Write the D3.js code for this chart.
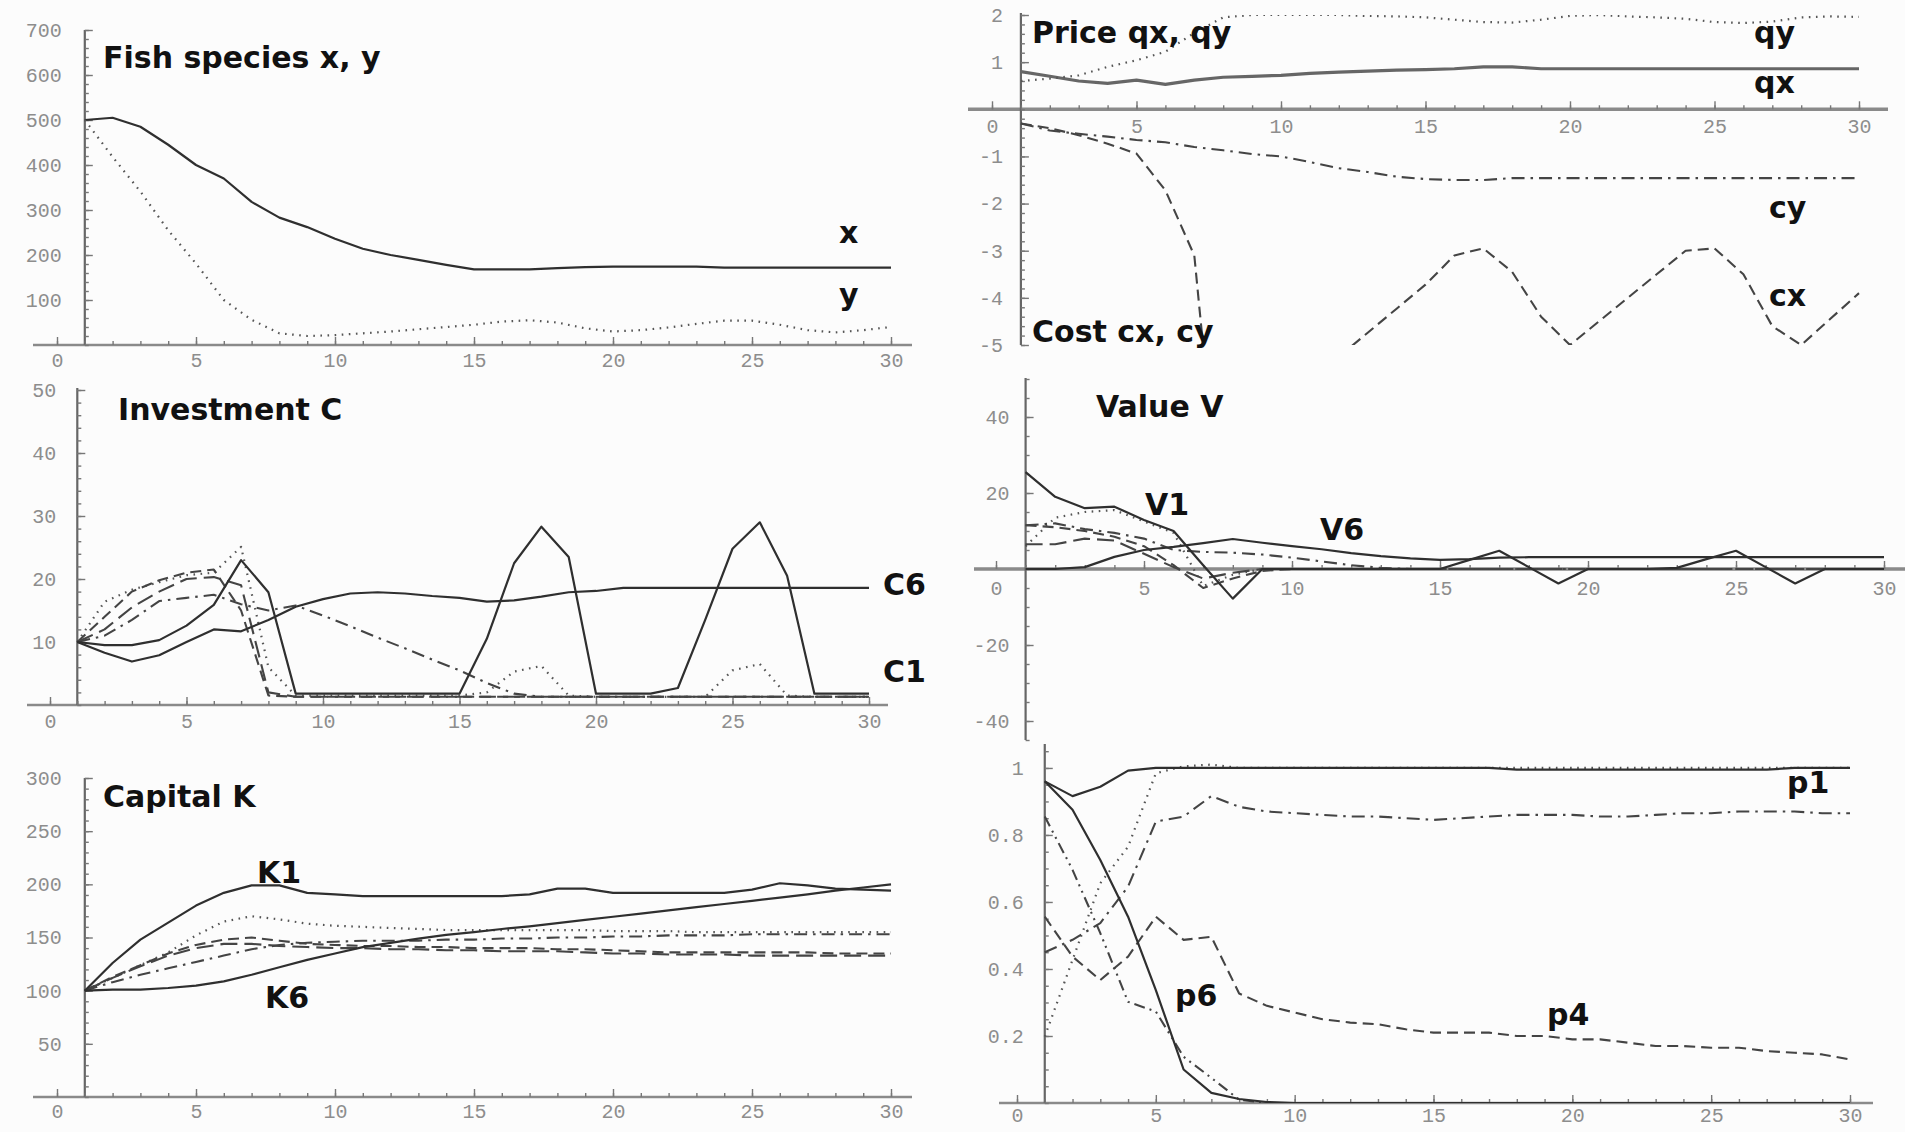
<!DOCTYPE html>
<html><head><meta charset="utf-8">
<script src="https://cdn.jsdelivr.net/npm/d3@7"></script>
<style>
html,body{margin:0;padding:0;background:#fcfcfc;}
svg{display:block;background:#fcfcfc;}
.lbl{font-family:"DejaVu Sans",sans-serif;font-weight:bold;font-size:30px;fill:#111;}
.tick text{font-family:"Liberation Mono",monospace;font-size:20px;fill:#8d8d8d;}
.tick line{stroke:#777;stroke-width:1.4;}
</style></head><body>
<svg id="chart" width="1905" height="1132"></svg>
<script>
// ---------------- DATA ----------------
const years = [1,2,3,4,5,6,7,8,9,10,11,12,13,14,15,16,17,18,19,20,21,22,23,24,25,26,27,28,29,30];
const xTickLabels = [0,5,10,15,20,25,30];

// Fish species
const fishX = [500,505,485,445,400,370,318,283,262,236,214,200,189,178,168,168,168,171,173,174,174,174,174,172,172,172,172,172,172,172];
const fishY = [500,418,341,255,181,100,56,26,20,22,26,30,35,40,45,52,55,50,37,30,33,39,47,54,54,45,33,28,33,40];
const fishTicks = [100,200,300,400,500,600,700];

// Price and cost
const priceQx = [0.8,0.7,0.6,0.55,0.62,0.53,0.62,0.68,0.7,0.72,0.76,0.79,0.81,0.83,0.84,0.86,0.9,0.9,0.86,0.86,0.86,0.86,0.86,0.86,0.86,0.86,0.86,0.86,0.86,0.86];
const priceQy = [0.6,0.65,0.72,0.9,1.04,1.22,1.62,1.95,2.0,2.0,2.0,2.0,1.98,1.97,1.95,1.9,1.85,1.84,1.9,1.98,2.0,1.97,1.95,1.92,1.85,1.83,1.86,1.95,1.97,1.96];
const costCx = [-0.3,-0.4,-0.55,-0.73,-0.94,-1.72,-3.1,-9.4,null,null,null,-5.25,-4.74,-4.23,-3.72,-3.1,-2.95,-3.45,-4.4,-5.0,-4.5,-4.0,-3.5,-3.0,-2.95,-3.5,-4.6,-5.0,-4.45,-3.9];
const costCy = [-0.3,-0.45,-0.52,-0.58,-0.65,-0.7,-0.8,-0.87,-0.95,-1.0,-1.12,-1.25,-1.33,-1.43,-1.48,-1.5,-1.5,-1.46,-1.46,-1.46,-1.46,-1.46,-1.46,-1.46,-1.46,-1.46,-1.46,-1.46,-1.46,-1.46];
const priceTicks = [-5,-4,-3,-2,-1,1,2];

// Investment C1..C6
const invC1 = [10,9.5,9.5,10.3,12.6,15.9,23,17.9,1.8,1.8,1.8,1.8,1.8,1.8,1.8,10.5,22.5,28.3,23.5,1.8,1.8,1.8,2.7,13.5,24.8,29,20.5,1.8,1.8,1.8];
const invC2 = [10,16.4,18.3,19.5,20.6,21,25.1,6,1.5,1.5,1.5,1.5,1.5,1.5,1.5,2,5.3,6.2,1.5,1.3,1.3,1.3,1.3,1.3,5.5,6.5,1.5,1.3,1.3,1.3];
const invC3 = [10,14,18,19.8,21,21.5,15,1.5,1.3,1.3,1.3,1.3,1.3,1.3,1.3,1.3,1.3,1.3,1.3,1.3,1.3,1.3,1.3,1.3,1.3,1.3,1.3,1.3,1.3,1.3];
const invC4 = [10,12,15.5,18,20,20.3,19,2,1.3,1.3,1.3,1.3,1.3,1.3,1.3,1.3,1.3,1.3,1.3,1.3,1.3,1.3,1.3,1.3,1.3,1.3,1.3,1.3,1.3,1.3];
const invC5 = [10,11,13.5,16.5,17,17.5,16,15,15.8,14.2,12.5,10.7,9,7.2,5.5,3.5,1.8,1.3,1.3,1.3,1.3,1.3,1.3,1.3,1.3,1.3,1.3,1.3,1.3,1.3];
const invC6 = [10,8.3,6.9,7.9,10,12,11.7,13.5,15.6,16.8,17.7,17.9,17.7,17.3,17,16.4,16.6,17.2,17.9,18.1,18.6,18.6,18.6,18.6,18.6,18.6,18.6,18.6,18.6,18.6];
const invTicks = [10,20,30,40,50];

// Value V1..V6
const valV1 = [25.5,19,16,16.4,12.9,10,1,-7.8,0,0,0,0,0,0,0,2.4,4.8,0.5,-3.8,0,0,0,0.3,2.6,4.8,0.5,-3.8,0,0,0];
const valV2 = [6,13.5,15,15.5,12.5,9.5,-4.5,-1.5,0,0,0,0,0,0,0,0,0,0,0,0,0,0,0,0,0,0,0,0,0,0];
const valV3 = [11.5,11,10,8.5,6,1,-5,-2.5,-0.5,0,0,0,0,0,0,0,0,0,0,0,0,0,0,0,0,0,0,0,0,0];
const valV4 = [6.5,6.5,8,7.5,4,0.5,-2.5,-1,0,0,0,0,0,0,0,0,0,0,0,0,0,0,0,0,0,0,0,0,0,0];
const valV5 = [11.5,12,10.5,9.5,8,5,4.5,4.3,3.8,3,2,1,0.3,0,0,0,0,0,0,0,0,0,0,0,0,0,0,0,0,0];
const valV6 = [0,0,0.5,3.2,5,5.8,6.8,7.9,6.9,6,5.2,4.2,3.4,2.8,2.4,2.6,3,3.1,3.1,3.1,3.1,3.1,3.1,3.1,3.1,3.1,3.1,3.1,3.1,3.1];
const valTicks = [-40,-20,20,40];

// Capital K1..K6
const capK1 = [100,126,148,164,180,192,199,199,192,190.5,189,189,189,189,189,189,190.5,196,196,192,192,192,192,192,195,201,199,196,195,194];
const capK2 = [100,112,124,136,152,165,170,167,163,161,160,159,158,157,157,157,157,157,157,156,156,156,155,155,155,155,155,155,155,155];
const capK3 = [100,113,124,135,143,148,150,147,144,143,142,142,141,141,140,140,140,139,139,138,137,136,136,136,136,136,136,135,135,135];
const capK4 = [100,112,123,133,140,144,144,142,141,140,140,139,139,138,138,137,137,137,136,135,135,134,134,134,133,133,133,133,133,133];
const capK5 = [100,108,115,121,127,133,139,143,145,146,147,147,147,148,148,149,149,150,150,151,151,152,152,152,153,153,153,153,153,153];
const capK6 = [100,101,101,102.5,104.7,108.8,115,122,129,135,141,145,149,152.5,155,158,160.5,163.5,166.5,169.5,172.5,175.5,178.5,181.5,184.5,187.5,190.5,194,197,200];
const capTicks = [50,100,150,200,250,300];

// Shares p1..p6
const shP1 = [0.96,0.916,0.944,0.992,1,1,1,1,1,1,1,1,1,1,1,1,1,0.995,0.995,0.995,0.995,0.995,0.995,0.995,0.995,0.995,0.995,1,1,1];
const shP2 = [0.198,0.427,0.656,0.765,0.984,1.005,1.01,1,1,1,1,1,1,1,1,1,1,1,1,1,1,1,1,1,1,1,1,1,1,1];
const shP3 = [0.855,0.696,0.507,0.302,0.273,0.138,0.075,0.01,0,0,0,0,0,0,0,0,0,0,0,0,0,0,0,0,0,0,0,0,0,0];
const shP4 = [0.556,0.437,0.367,0.437,0.556,0.487,0.496,0.327,0.29,0.27,0.25,0.24,0.235,0.22,0.21,0.21,0.21,0.2,0.2,0.19,0.19,0.18,0.17,0.17,0.165,0.165,0.155,0.15,0.145,0.13];
const shP5 = [0.45,0.487,0.537,0.646,0.84,0.855,0.916,0.884,0.87,0.865,0.86,0.855,0.855,0.85,0.845,0.85,0.855,0.86,0.86,0.86,0.855,0.855,0.86,0.865,0.865,0.87,0.87,0.87,0.865,0.865];
const shP6 = [0.96,0.875,0.725,0.556,0.337,0.1,0.03,0.012,0.003,0,0,0,0,0,0,0,0,0,0,0,0,0,0,0,0,0,0,0,0,0];
const shTicks = [0.2,0.4,0.6,0.8,1];

// ---------------- STYLES ----------------
const ST = {
  solid:   {dash:null,          color:'#2f2f2f', w:2.2},
  thick:   {dash:null,          color:'#666',    w:3.2},
  dot:     {dash:'1.6,5.5',     color:'#555',    w:2.2},
  dash:    {dash:'11,6',        color:'#444',    w:2.1},
  ldash:   {dash:'17,7',        color:'#444',    w:2.1},
  dashdot: {dash:'13,6,2.5,6',  color:'#444',    w:2.1},
  dashdd:  {dash:'11,5,2,5,2,5',color:'#444',    w:2.1}
};

// ---------------- PANELS ----------------
const panels = [
  { id:1, xr:[57,891], yd:[0,700], yr:[345,30], xAxisAt:0, xExt:[33,912], yExt:[30,345],
    yTicks:fishTicks, yMinor:20, xpad:8, ypad:23, fmt:d=>String(d),
    series:[{v:fishX,s:'solid'},{v:fishY,s:'dot'}],
    labels:[['Fish species x, y',103,68],['x',839,243],['y',839,305]] },
  { id:2, xr:[992,1859], yd:[-5,2], yr:[345,15], xAxisAt:0, xExt:[968,1888], yExt:[13,345], axisW:3.4,
    yTicks:priceTicks, yMinor:0.2, xpad:10, ypad:18, fmt:d=>String(d),
    series:[{v:priceQx,s:'thick'},{v:priceQy,s:'dot'},{v:costCy,s:'dashdot'},{v:costCx,s:'dash'}],
    labels:[['Price qx, qy',1032,43],['Cost cx, cy',1032,342],['qy',1754,43],['qx',1754,93],['cy',1769,218],['cx',1769,306]] },
  { id:3, xr:[50,869], yd:[0,50], yr:[705,390], xAxisAt:0, xExt:[27,888], yExt:[388,705],
    yTicks:invTicks, yMinor:2, xpad:9, ypad:21, fmt:d=>String(d),
    series:[{v:invC2,s:'dot'},{v:invC3,s:'dash'},{v:invC4,s:'ldash'},{v:invC5,s:'dashdot'},{v:invC6,s:'solid'},{v:invC1,s:'solid'}],
    labels:[['Investment C',118,420],['C6',883,595],['C1',883,682]] },
  { id:4, xr:[996,1884], yd:[-45,50], yr:[740,379], xAxisAt:0, xExt:[974,1905], yExt:[378,740], axisW:3.4,
    yTicks:valTicks, yMinor:5, xpad:12, ypad:16, fmt:d=>String(d),
    series:[{v:valV2,s:'dot'},{v:valV3,s:'dash'},{v:valV4,s:'ldash'},{v:valV5,s:'dashdot'},{v:valV6,s:'solid'},{v:valV1,s:'solid'}],
    labels:[['Value V',1096,417],['V1',1145,515],['V6',1320,540]] },
  { id:5, xr:[57,891], yd:[0,300], yr:[1097,778], xAxisAt:0, xExt:[33,912], yExt:[778,1097],
    yTicks:capTicks, yMinor:10, xpad:7, ypad:23, fmt:d=>String(d),
    series:[{v:capK2,s:'dot'},{v:capK3,s:'dash'},{v:capK4,s:'ldash'},{v:capK5,s:'dashdot'},{v:capK6,s:'solid'},{v:capK1,s:'solid'}],
    labels:[['Capital K',103,807],['K1',257,883],['K6',265,1008]] },
  { id:6, xr:[1017,1850], yd:[0,1.07], yr:[1103,744.5], xAxisAt:0, xExt:[999,1873], yExt:[744,1103],
    yTicks:shTicks, yMinor:0.05, xpad:5, ypad:21, fmt:d=>d===1?'1':d.toFixed(1),
    series:[{v:shP2,s:'dot'},{v:shP3,s:'dashdd'},{v:shP4,s:'dash'},{v:shP5,s:'dashdot'},{v:shP6,s:'solid'},{v:shP1,s:'solid'}],
    labels:[['p1',1787,793],['p6',1175,1006],['p4',1547,1025]] }
];

const svg = d3.select('#chart');
const defs = svg.append('defs');

function drawPanel(cfg){
  const g = svg.append('g').attr('class','panel'+cfg.id);
  const x = d3.scaleLinear().domain([0,30]).range(cfg.xr);
  const y = d3.scaleLinear().domain(cfg.yd).range(cfg.yr);
  const ay = y(cfg.xAxisAt);
  const ax = x(1);
  const aw = cfg.axisW || 2.4;

  defs.append('clipPath').attr('id','clip'+cfg.id).append('rect')
    .attr('x', x(0)).attr('y', y(cfg.yd[1]))
    .attr('width', x(30) - x(0) + 30).attr('height', y(cfg.yd[0]) - y(cfg.yd[1]));

  g.append('line').attr('x1',cfg.xExt[0]).attr('x2',cfg.xExt[1]).attr('y1',ay).attr('y2',ay)
    .attr('stroke','#8a8a8a').attr('stroke-width',aw);
  g.append('line').attr('x1',ax).attr('x2',ax).attr('y1',cfg.yExt[0]).attr('y2',cfg.yExt[1])
    .attr('stroke','#666').attr('stroke-width',2.2);

  g.append('g').attr('transform',`translate(0,${ay})`)
    .call(d3.axisBottom(x).tickValues(d3.range(0,31,1)).tickSizeInner(-4).tickSizeOuter(0).tickFormat(''))
    .call(s=>s.select('.domain').remove());
  g.append('g').attr('transform',`translate(0,${ay})`)
    .call(d3.axisBottom(x).tickValues(xTickLabels).tickSizeInner(-8).tickSizeOuter(0).tickPadding(cfg.xpad).tickFormat(d=>String(d)))
    .call(s=>s.select('.domain').remove());

  const lo = cfg.yd[0], hi = cfg.yd[1];
  const minor = d3.range(Math.ceil(lo/cfg.yMinor - 1e-9), Math.floor(hi/cfg.yMinor + 1e-9) + 1).map(k => +(k*cfg.yMinor).toFixed(4));
  g.append('g').attr('transform',`translate(${ax},0)`)
    .call(d3.axisLeft(y).tickValues(minor).tickSizeInner(-4).tickSizeOuter(0).tickFormat(''))
    .call(s=>s.select('.domain').remove());
  g.append('g').attr('transform',`translate(${ax},0)`)
    .call(d3.axisLeft(y).tickValues(cfg.yTicks).tickSizeInner(-8).tickSizeOuter(0).tickPadding(cfg.ypad).tickFormat(cfg.fmt))
    .call(s=>s.select('.domain').remove());

  const line = d3.line().defined(d => d[1] != null).x(d => x(d[0])).y(d => y(d[1]));
  const sg = g.append('g').attr('clip-path',`url(#clip${cfg.id})`);
  cfg.series.forEach(s => {
    const st = ST[s.s];
    sg.append('path').datum(years.map((t,i)=>[t, s.v[i]]))
      .attr('d', line).attr('fill','none')
      .attr('stroke', st.color).attr('stroke-width', st.w)
      .attr('stroke-linejoin','round')
      .attr('stroke-dasharray', st.dash);
  });

  cfg.labels.forEach(([txt,px,py]) => {
    g.append('text').attr('class','lbl').attr('x',px).attr('y',py).text(txt);
  });
}
panels.forEach(drawPanel);
</script>
</body></html>
